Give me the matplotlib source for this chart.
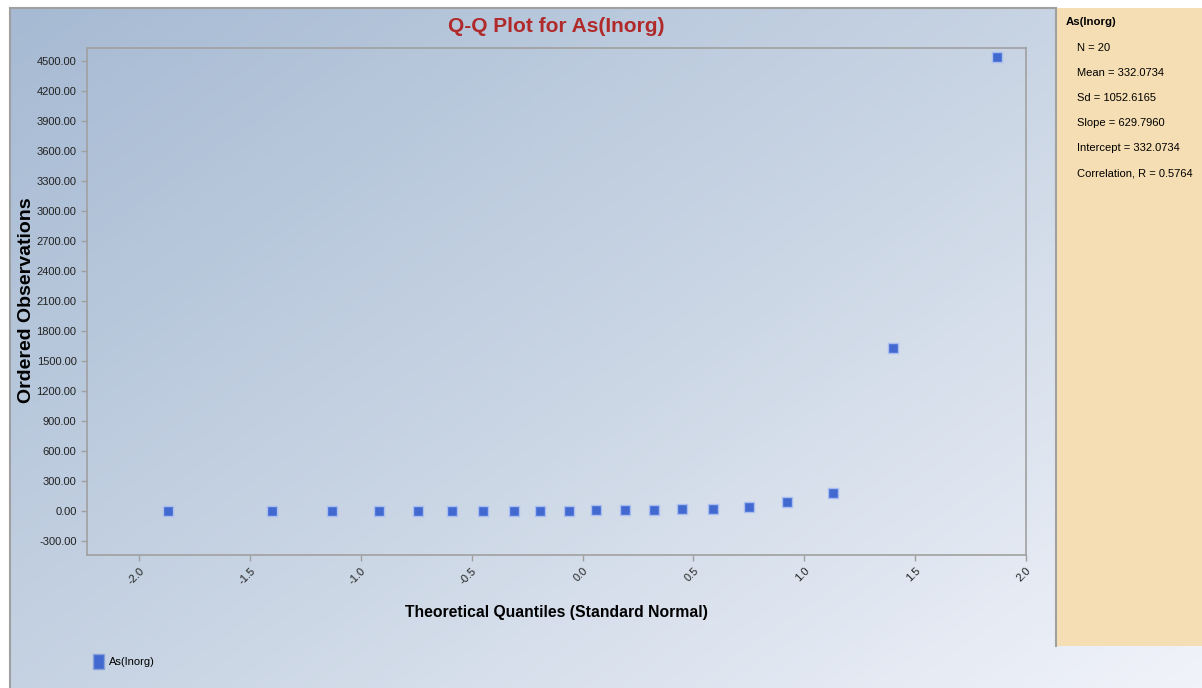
import numpy as np
import matplotlib.pyplot as plt
from matplotlib.colors import LinearSegmentedColormap
from matplotlib.patches import Rectangle

# theoretical quantiles and ordered observations
quantiles = [-1.87, -1.40, -1.13, -0.92, -0.74, -0.59, -0.45, -0.31, -0.19, -0.06,
             0.06, 0.19, 0.32, 0.45, 0.59, 0.75, 0.92, 1.13, 1.40, 1.87]
observations = [2, 2, 2, 3, 3, 3, 3, 4, 4, 5,
                12, 13, 11, 22, 24, 38, 92, 182, 1630, 4540]

series_name = "As(Inorg)"
stats_lines = ["N = 20", "Mean = 332.0734", "Sd = 1052.6165", "Slope = 629.7960",
               "Intercept = 332.0734", "Correlation, R = 0.5764"]
yticks = list(range(-300, 4501, 300))
xticks = [-2.0, -1.5, -1.0, -0.5, 0.0, 0.5, 1.0, 1.5, 2.0]

font = ["Liberation Sans", "DejaVu Sans"]
W, H = 1202, 688
fig = plt.figure(figsize=(W / 100, H / 100), dpi=100)
fig.patch.set_facecolor("white")

# gradient background
bg = fig.add_axes([10 / W, 0, 1 - 10 / W, 1 - 8 / H])
bg.set_axis_off()
gx, gy = np.meshgrid(np.linspace(0, 1, 300), np.linspace(0, 1, 200))
grad = (gx * 0.55 + gy * 0.45)
cmap = LinearSegmentedColormap.from_list("bg", ["#a6bad3", "#c9d5e4", "#f1f3fa"])
bg.imshow(grad, cmap=cmap, aspect="auto", extent=[0, 1, 0, 1], origin="upper")
bg.set_xlim(0, 1)
bg.set_ylim(0, 1)
# outer frame lines
fig.add_artist(plt.Line2D([10 / W, 10 / W], [0, 1 - 8 / H], color="#a0a0a0", lw=1.5))
fig.add_artist(plt.Line2D([10 / W, 1056 / W], [1 - 8 / H, 1 - 8 / H], color="#a0a0a0", lw=1.5))

# stats panel on the right
fig.add_artist(Rectangle((1056 / W, 1 - 646 / H), (W - 1056) / W, (646 - 8) / H,
                         transform=fig.transFigure, facecolor="#f5deb3",
                         edgecolor="none"))
fig.add_artist(plt.Line2D([1056 / W, 1056 / W], [1 - 646 / H, 1 - 8 / H], color="#a0a0a0", lw=1.5))
fig.text(1066 / W, 1 - 22 / H, series_name, family=font, fontsize=8.2,
         fontweight="bold", va="center", ha="left")
for i, line in enumerate(stats_lines):
    fig.text(1077 / W, 1 - (48 + 25 * i) / H, line, family=font, fontsize=8,
             va="center", ha="left")

# main plot
ax = fig.add_axes([87 / W, 1 - 555 / H, (1026 - 87) / W, (555 - 48) / H])
ax.patch.set_alpha(0)
ax.plot(quantiles, observations, linestyle="none", marker="s", markersize=6.5,
        markerfacecolor="#4169d0", markeredgecolor="#a9bdf0", markeredgewidth=1.0)
ax.set_xlim(-2.235, 2.0)
ax.set_ylim(-440, 4630)
ax.set_yticks(yticks)
ax.set_yticklabels([f"{v:.2f}" for v in yticks], family=font, fontsize=8)
ax.set_xticks(xticks)
ax.set_xticklabels([f"{v:.1f}" for v in xticks], family=font, fontsize=8,
                   rotation=45, ha="right", va="top", rotation_mode="anchor")
ax.tick_params(colors="#a0a0a0", labelcolor="#222222", length=4, width=1)
for s in ax.spines.values():
    s.set_color("#a0a0a0")
    s.set_linewidth(1.2)

fig.text(556 / W, 1 - 27 / H, "Q-Q Plot for As(Inorg)", family=font, fontsize=15,
         fontweight="bold", color="#b02a2a", ha="center", va="center")
fig.text(556 / W, 1 - 612 / H, "Theoretical Quantiles (Standard Normal)", family=font,
         fontsize=11.3, fontweight="bold", ha="center", va="center")
fig.text(27 / W, 1 - 300 / H, "Ordered Observations", family=font,
         fontsize=14, fontweight="bold", rotation=90, ha="center", va="center")

# legend
fig.add_artist(Rectangle((93 / W, 1 - 669 / H), 11 / W, 15 / H, transform=fig.transFigure,
                         facecolor="#4169d0", edgecolor="#8aa0d8", lw=1))
fig.text(109 / W, 1 - 662 / H, series_name, family=font, fontsize=8,
         ha="left", va="center")

fig.savefig("out.png", dpi=100)
